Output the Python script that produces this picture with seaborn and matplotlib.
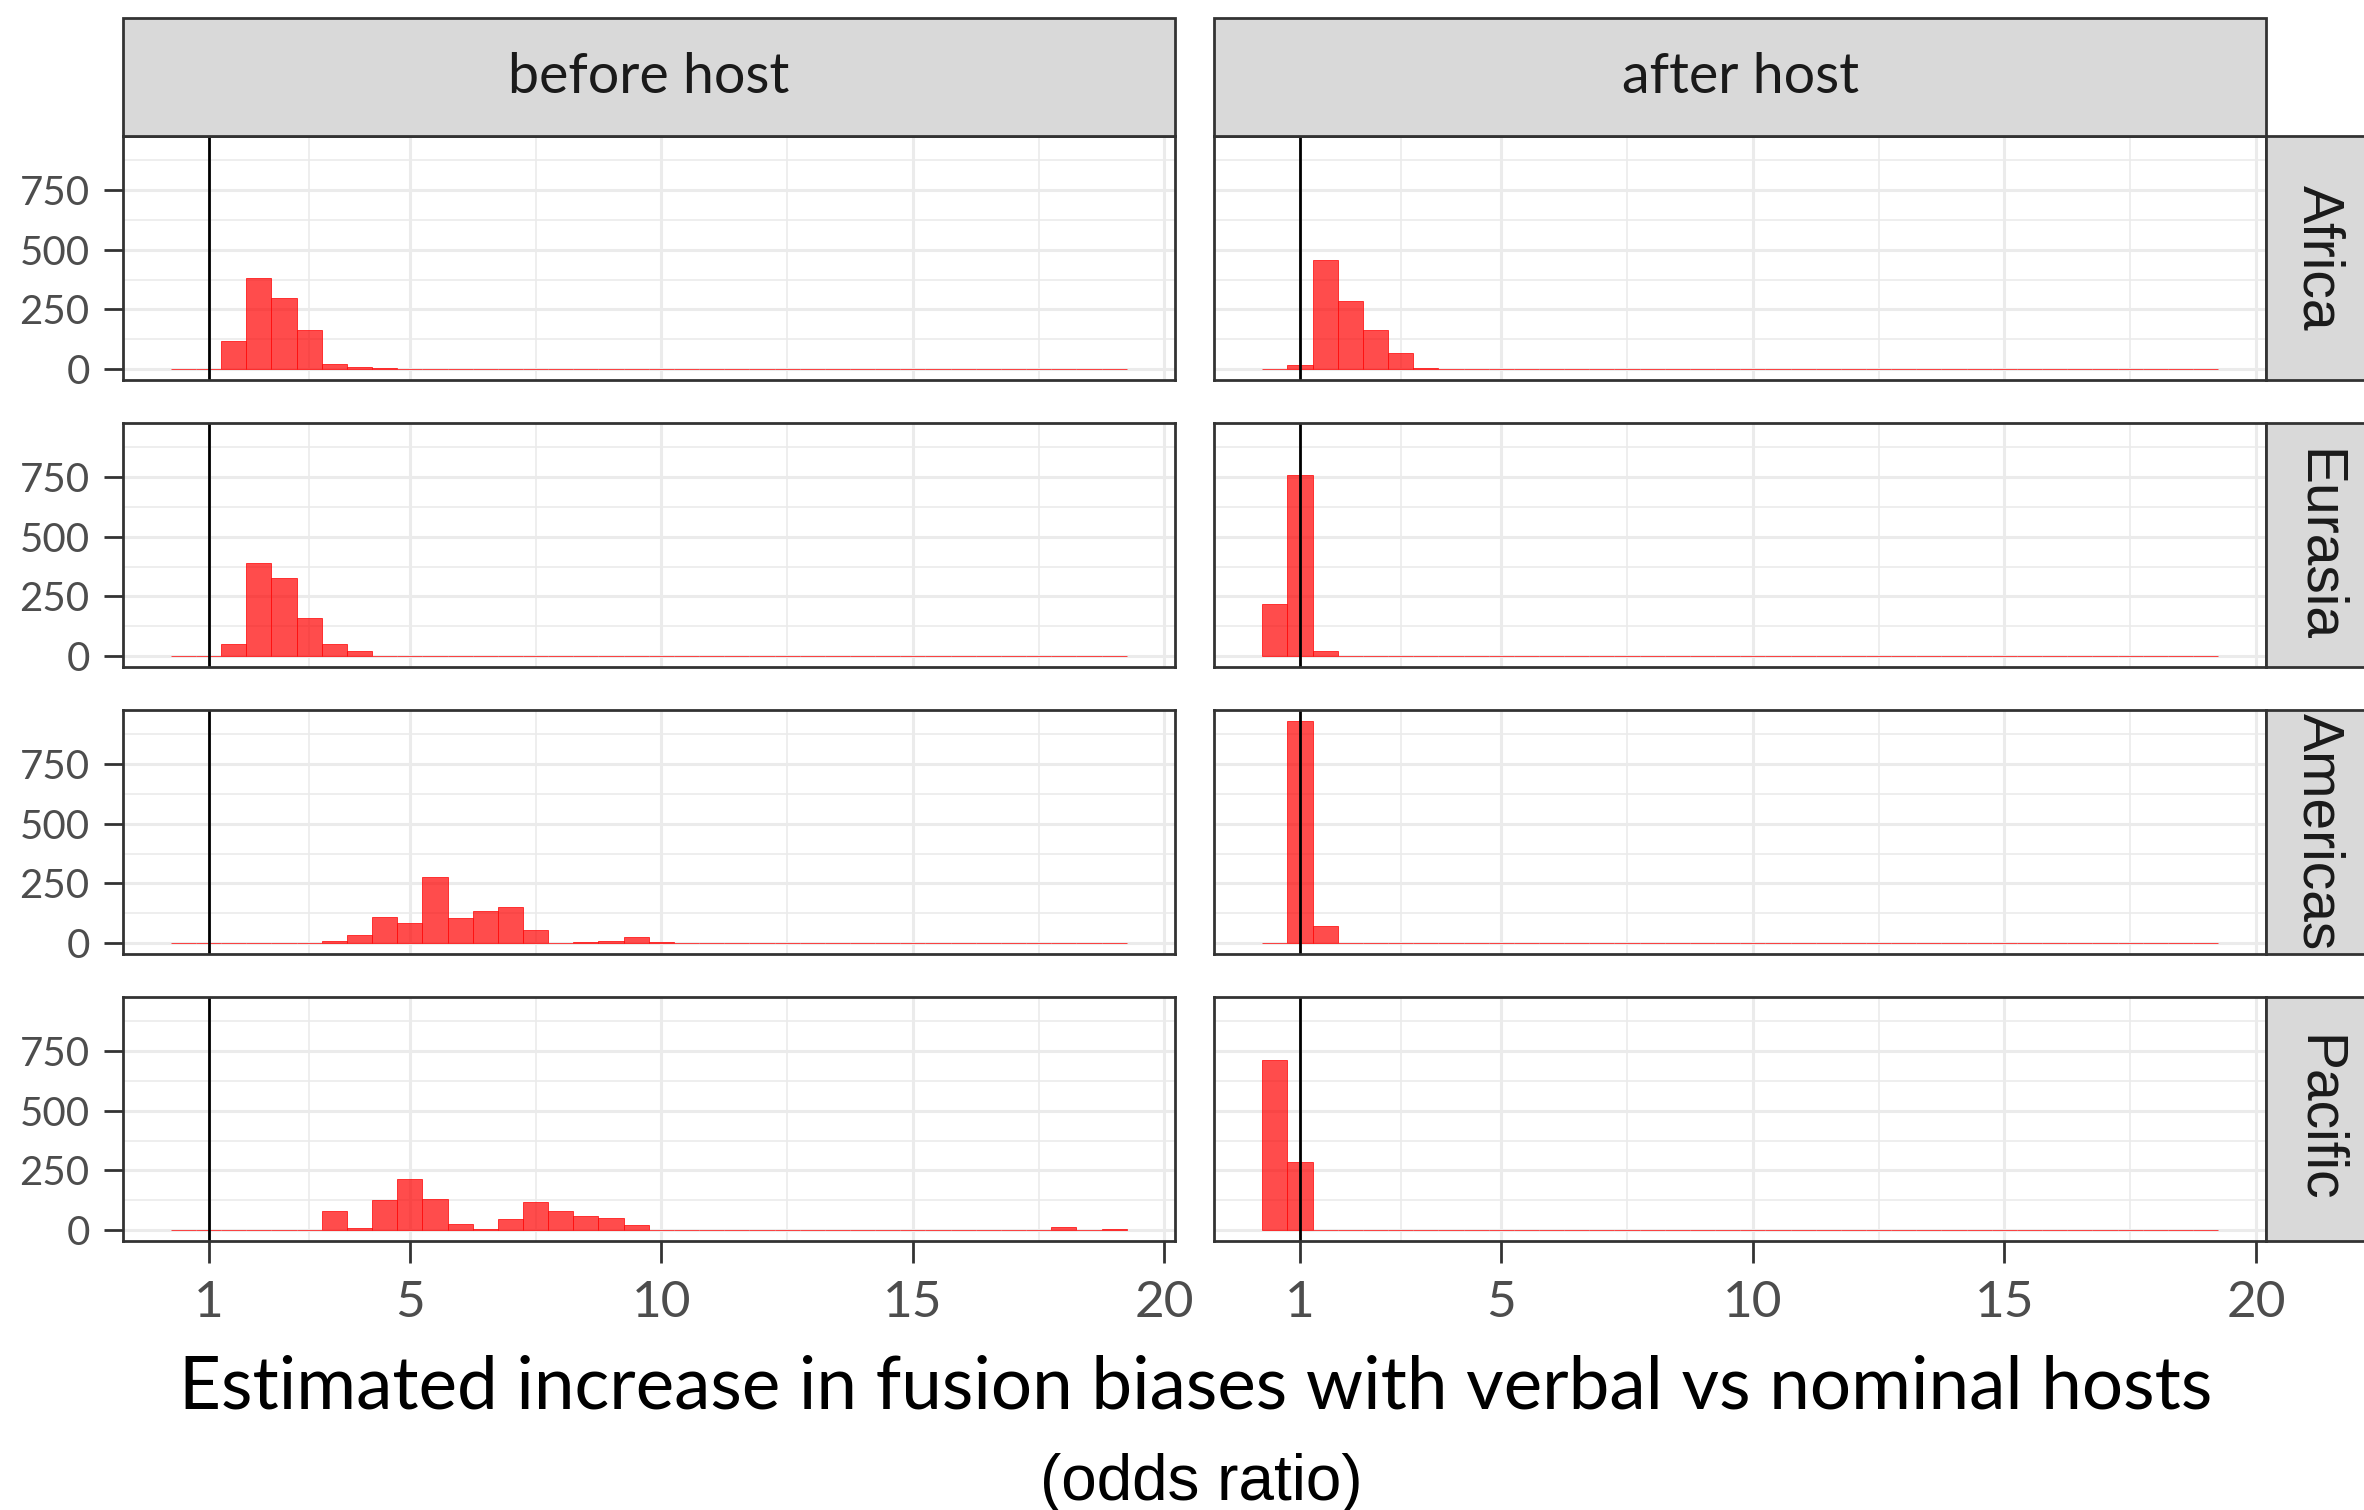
import numpy as np
import pandas as pd
import matplotlib
matplotlib.use("Agg")
import matplotlib.pyplot as plt
from matplotlib.patches import Rectangle
import seaborn as sns

# Facet levels
periods = ["before host", "after host"]
regions = ["Africa", "Eurasia", "Americas", "Pacific"]

# Histogram binning of the odds ratio
bin_width = 0.5
bin_low = 0.25
bin_high = 19.25

# Posterior draws per odds-ratio bin (bin centre -> count), one pair of lists per panel
africa_before_x = [1.5, 2.0, 2.5, 3.0, 3.5, 4.0, 4.5]
africa_before_n = [117, 380, 298, 163, 22, 10, 5]
africa_after_x = [1.0, 1.5, 2.0, 2.5, 3.0, 3.5]
africa_after_n = [18, 459, 286, 163, 67, 5]

eurasia_before_x = [1.5, 2.0, 2.5, 3.0, 3.5, 4.0]
eurasia_before_n = [52, 390, 328, 159, 52, 19]
eurasia_after_x = [0.5, 1.0, 1.5]
eurasia_after_n = [217, 761, 22]

americas_before_x = [3.5, 4.0, 4.5, 5.0, 5.5, 6.0, 6.5, 7.0, 7.5, 8.0, 8.5, 9.0, 9.5, 10.0]
americas_before_n = [7, 33, 107, 82, 276, 103, 132, 152, 55, 1, 4, 8, 25, 4]
americas_after_x = [1.0, 1.5]
americas_after_n = [931, 70]

pacific_before_x = [3.5, 4.0, 4.5, 5.0, 5.5, 6.0, 6.5, 7.0, 7.5, 8.0, 8.5, 9.0, 9.5, 18.0, 18.5, 19.0]
pacific_before_n = [80, 10, 125, 212, 129, 26, 5, 47, 117, 80, 59, 51, 22, 14, 1, 5]
pacific_after_x = [0.5, 1.0]
pacific_after_n = [714, 286]

# Axis ticks
x_major = [1, 5, 10, 15, 20]
x_minor = [3, 7.5, 12.5, 17.5]
y_major = [0, 250, 500, 750]
y_minor = [125, 375, 625, 875]

panels = {
    ("Africa", "before host"): (africa_before_x, africa_before_n),
    ("Africa", "after host"): (africa_after_x, africa_after_n),
    ("Eurasia", "before host"): (eurasia_before_x, eurasia_before_n),
    ("Eurasia", "after host"): (eurasia_after_x, eurasia_after_n),
    ("Americas", "before host"): (americas_before_x, americas_before_n),
    ("Americas", "after host"): (americas_after_x, americas_after_n),
    ("Pacific", "before host"): (pacific_before_x, pacific_before_n),
    ("Pacific", "after host"): (pacific_after_x, pacific_after_n),
}

rows = []
for (region, period), (xs, ns) in panels.items():
    for x, n in zip(xs, ns):
        rows.append({"region": region, "period": period, "odds_ratio": x, "count": n})
df = pd.DataFrame(rows)

sns.set_theme(style="white")
plt.rcParams["font.family"] = ["Lato", "DejaVu Sans"]

W, H = 2364, 1510
fig, axes = plt.subplots(4, 2, figsize=(W / 100, H / 100), dpi=100, sharex=True, sharey=True)
fig.subplots_adjust(left=123 / W, right=2266 / W, top=1 - 136 / H, bottom=1 - 1241 / H,
                    wspace=0.038, hspace=0.1753)

edges = [float(e) for e in np.arange(bin_low, bin_high + bin_width / 2, bin_width)]
span = bin_high - bin_low
ymax = df["count"].max()

border = "#333333"
grid_col = "#EBEBEB"
strip_fill = "#D9D9D9"

for i, region in enumerate(regions):
    for j, period in enumerate(periods):
        ax = axes[i, j]
        sub = df[(df["region"] == region) & (df["period"] == period)]
        sns.histplot(data=sub, x="odds_ratio", weights="count", bins=edges, ax=ax,
                     color="red", linewidth=0.6, zorder=2)
        for p in ax.patches:
            p.set_alpha(None)
            p.set_facecolor((1, 0, 0, 0.7))
            p.set_edgecolor((1, 0.05, 0.05, 0.9))
            p.set_linewidth(0.6)
        ax.axvline(1, color="black", lw=2.0, zorder=3)

        ax.set_xlim(bin_low - 0.05 * span, bin_high + 0.05 * span)
        ax.set_ylim(-0.05 * ymax, 1.05 * ymax)
        ax.set_xticks(x_major)
        ax.set_xticks(x_minor, minor=True)
        ax.set_yticks(y_major)
        ax.set_yticks(y_minor, minor=True)
        ax.set_axisbelow(True)
        ax.grid(which="major", color=grid_col, lw=2.2, zorder=0)
        ax.grid(which="minor", color=grid_col, lw=1.2, zorder=0)
        ax.set_xlabel("")
        ax.set_ylabel("")
        for s in ax.spines.values():
            s.set_color(border)
            s.set_linewidth(2.0)
            s.set_zorder(4)

        ax.tick_params(which="minor", length=0)
        ax.tick_params(axis="y", which="major", left=(j == 0), labelleft=(j == 0),
                       length=14, width=2, color=border, labelcolor="#4D4D4D",
                       labelsize=29, pad=10)
        ax.tick_params(axis="x", which="major", bottom=(i == 3), labelbottom=(i == 3),
                       length=16, width=2, color=border, labelcolor="#4D4D4D",
                       labelsize=37, pad=12)

        # column strip
        if i == 0:
            sh = 118 / 245
            ax.add_patch(Rectangle((0, 1), 1, sh, transform=ax.transAxes, clip_on=False,
                                   facecolor=strip_fill, edgecolor=border, lw=2.0, zorder=5))
            ax.text(0.5, 1 + sh / 2, period, transform=ax.transAxes, ha="center",
                    va="center", fontsize=40, color="#1A1A1A", zorder=6)
        # row strip
        if j == 1:
            ax.add_patch(Rectangle((1, 0), 0.1, 1, transform=ax.transAxes, clip_on=False,
                                   facecolor=strip_fill, edgecolor=border, lw=2.0, zorder=5))
            ax.text(1 + 52 / 1052, 0.5, region, transform=ax.transAxes, ha="center",
                    va="center", rotation=-90, fontsize=41, color="#1A1A1A",
                    family=["Liberation Sans", "DejaVu Sans"], zorder=6)

fig.text(1196 / W, 1 - 1388 / H,
         "Estimated increase in fusion biases with verbal vs nominal hosts",
         ha="center", va="center", fontsize=52.5, color="black")
fig.text(1201 / W, 1 - 1483 / H, "(odds ratio)", ha="center", va="center",
         fontsize=46, color="black", family=["Liberation Sans", "DejaVu Sans"])

fig.savefig("out.png", dpi=100)
